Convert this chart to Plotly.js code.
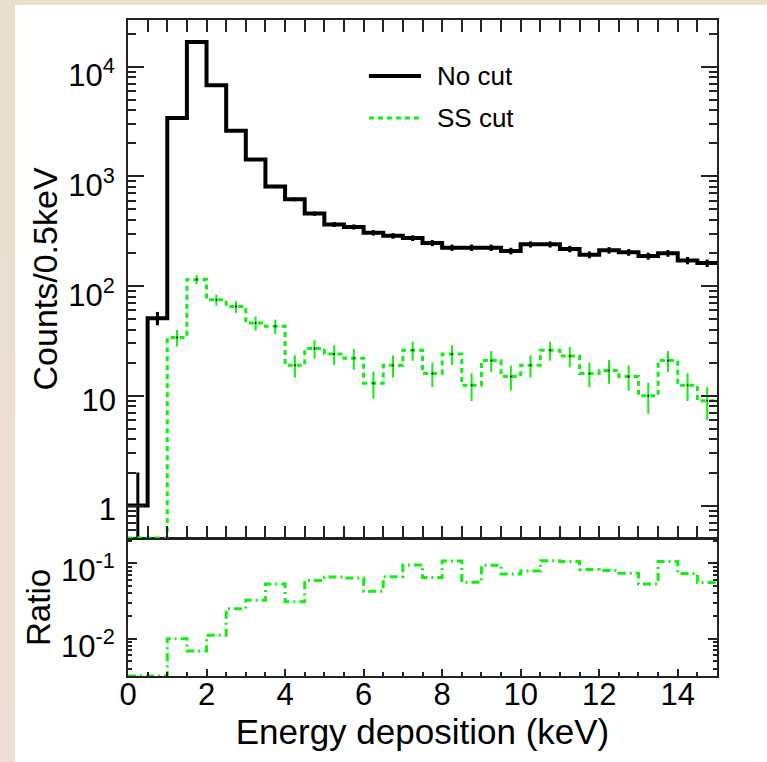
<!DOCTYPE html>
<html><head><meta charset="utf-8">
<script src="https://cdn.plot.ly/plotly-3.0.1.min.js"></script>
<style>
html,body{margin:0;padding:0;width:767px;height:762px;overflow:hidden;background:linear-gradient(to bottom,#e9dfcb,#efdfd6);}
#chart{position:absolute;left:15px;top:5px;width:752px;height:757px;background:#fff;}
</style></head><body><div id="chart"></div>
<script>
// ---- data (0.5 keV bins, 0-15 keV) ----
const binEdges = [0,0.5,1,1.5,2,2.5,3,3.5,4,4.5,5,5.5,6,6.5,7,7.5,8,8.5,9,9.5,10,10.5,11,11.5,12,12.5,13,13.5,14,14.5,15];
const binCenters = [0.25,0.75,1.25,1.75,2.25,2.75,3.25,3.75,4.25,4.75,5.25,5.75,6.25,6.75,7.25,7.75,8.25,8.75,9.25,9.75,10.25,10.75,11.25,11.75,12.25,12.75,13.25,13.75,14.25,14.75];
const noCutCounts = [1,51,3400,16760,6780,2600,1425,808,617,458,365,346,306,287,274,247,224,224,224,209,240,240,218,193,212,203,188,199,171,162];
const ssCutCounts = [0,0,34,115,75,65,46,43,19,27,24,22,13,19,26,16,24,12.5,21,15,19,26,23,16,17,15,10,21,12.5,9];
const xTickVals = [0,2,4,6,8,10,12,14];
const upperTickVals = [1,10,100,1000,10000];
const upperTickText = ['1','10','10<sup>2</sup>','10<sup>3</sup>','10<sup>4</sup>'];
const lowerTickVals = [0.01,0.1];
const lowerTickText = ['10<sup>-2</sup>','10<sup>-1</sup>'];
const legendNames = ['No cut','SS cut'];

// ---- styling / axes ----
const FONT = 'Liberation Sans, Arial, Helvetica, sans-serif';
const GREEN = '#11ee11';
const AX = '#222';
const upperRange = [-0.295, 4.425];
const lowerRange = [-2.495, -0.677];
const upperFloor = Math.pow(10, upperRange[0]);
const lowerFloor = Math.pow(10, lowerRange[0]);

function minorLog(d0, d1){
  const v=[]; for(let d=d0; d<=d1; d++){ for(let m=2;m<=9;m++){ v.push(m*Math.pow(10,d)); } } return v;
}
function stepY(arr, floor){ const a = arr.map(v => v>0 ? v : floor); a.push(a[a.length-1]); return a; }

const ratio = ssCutCounts.map((v,i)=> noCutCounts[i]>0 ? v/noCutCounts[i] : 0);

// superscripted labels sit on the main axis, plain ones on an overlay axis (different vertical nudge)
const isSup = upperTickText.map(t => t.indexOf('<sup>') >= 0);
const supText = upperTickText.map((t,i) => isSup[i] ? t : '');
const plainVals = upperTickVals.filter((v,i) => !isSup[i]);
const plainText = upperTickText.filter((t,i) => !isSup[i]);

const traces = [
  {x: binEdges, y: stepY(noCutCounts, upperFloor), xaxis:'x2', yaxis:'y2', mode:'lines',
   line:{shape:'hv', color:'#000', width:4}, name:legendNames[0], hoverinfo:'skip'},
  {x: binCenters, y: noCutCounts, xaxis:'x2', yaxis:'y2', mode:'markers',
   marker:{size:3, color:'#000'}, error_y:{type:'sqrt', color:'#000', thickness:3, width:0}, hoverinfo:'skip'},
  {x: binEdges, y: stepY(ssCutCounts, upperFloor), xaxis:'x2', yaxis:'y2', mode:'lines',
   line:{shape:'hv', color:GREEN, width:3, dash:'5px,4px'}, name:legendNames[1], hoverinfo:'skip'},
  {x: binCenters, y: ssCutCounts, xaxis:'x2', yaxis:'y2', mode:'markers',
   marker:{size:2, color:'#000'}, error_y:{type:'sqrt', color:GREEN, thickness:2, width:0}, hoverinfo:'skip'},
  {x: binEdges, y: stepY(ratio, lowerFloor), xaxis:'x', yaxis:'y', mode:'lines',
   line:{shape:'hv', color:GREEN, width:3, dash:'8px,4px,2px,4px'}, hoverinfo:'skip'},
  {x: binCenters, y: noCutCounts, xaxis:'x2', yaxis:'y3', mode:'lines', opacity:0,
   line:{width:0}, hoverinfo:'skip'}
];

const baseAxis = {showline:true, linecolor:AX, linewidth:2, showgrid:false, zeroline:false,
  ticks:'inside', tickwidth:2, tickcolor:AX, tickfont:{size:31, family:FONT, color:'#000'}};

const layout = {
  width:752, height:757,
  margin:{l:113, r:50, t:15, b:86},
  paper_bgcolor:'#fff', plot_bgcolor:'#fff',
  showlegend:false,
  font:{family:FONT, color:'#000'},
  xaxis: Object.assign({}, baseAxis, {domain:[0,1], anchor:'y', range:[0,15], tickmode:'array', tickvals:xTickVals,
    ticklen:7, mirror:true, ticklabelstandoff:-10,
    minor:{tick0:0, dtick:0.5, ticks:'inside', ticklen:4, tickwidth:2, tickcolor:AX, showgrid:false},
    title:{text:'Energy deposition (keV)', font:{size:35, family:FONT}, standoff:6}}),
  yaxis: Object.assign({}, baseAxis, {domain:[0,0.209], anchor:'x', type:'log', range:lowerRange,
    tickmode:'array', tickvals:lowerTickVals, ticktext:lowerTickText, ticklen:9, mirror:'allticks', ticklabelstandoff:5, ticklabelshift:7,
    minor:{tickmode:'array', tickvals:minorLog(-3,-1), ticks:'inside', ticklen:4, tickwidth:2, tickcolor:AX, showgrid:false},
    title:{text:'Ratio', font:{size:33, family:FONT}, standoff:0}}),
  xaxis2: Object.assign({}, baseAxis, {domain:[0,1], anchor:'y2', range:[0,15], matches:'x', tickmode:'array', tickvals:xTickVals,
    showticklabels:false, ticklen:12, mirror:'allticks',
    minor:{tick0:0, dtick:0.5, ticks:'inside', ticklen:6, tickwidth:2, tickcolor:AX, showgrid:false}}),
  yaxis2: Object.assign({}, baseAxis, {domain:[0.2105,1], anchor:'x2', type:'log', range:upperRange,
    tickmode:'array', tickvals:upperTickVals, ticktext:supText, ticklen:16, mirror:'allticks', ticklabelstandoff:5, ticklabelshift:9,
    minor:{tickmode:'array', tickvals:minorLog(-1,4), ticks:'inside', ticklen:8, tickwidth:2, tickcolor:AX, showgrid:false},
    title:{text:'Counts/0.5keV', font:{size:34, family:FONT}, standoff:0}}),
  yaxis3: {overlaying:'y2', anchor:'x2', side:'left', type:'log', range:upperRange, tickmode:'array',
    tickvals:plainVals, ticktext:plainText, showline:false, ticks:'', showgrid:false, zeroline:false,
    ticklabelstandoff:11, ticklabelshift:4, tickfont:{size:31, family:FONT, color:'#000'}},
  shapes:[
    {type:'line', xref:'paper', yref:'paper', x0:0.409, x1:0.4975, y0:0.9146, y1:0.9146, line:{color:'#000', width:4}},
    {type:'line', xref:'paper', yref:'paper', x0:0.409, x1:0.4975, y0:0.8506, y1:0.8506, line:{color:GREEN, width:3, dash:'5px,4px'}}
  ],
  annotations:[
    {xref:'paper', yref:'paper', x:0.5212, y:0.9146, xanchor:'left', yanchor:'middle', text:legendNames[0], showarrow:false, font:{size:26, family:FONT, color:'#000'}},
    {xref:'paper', yref:'paper', x:0.5212, y:0.8506, xanchor:'left', yanchor:'middle', text:legendNames[1], showarrow:false, font:{size:26, family:FONT, color:'#000'}}
  ]
};

Plotly.newPlot('chart', traces, layout, {staticPlot:true, displayModeBar:false});
</script></body></html>
